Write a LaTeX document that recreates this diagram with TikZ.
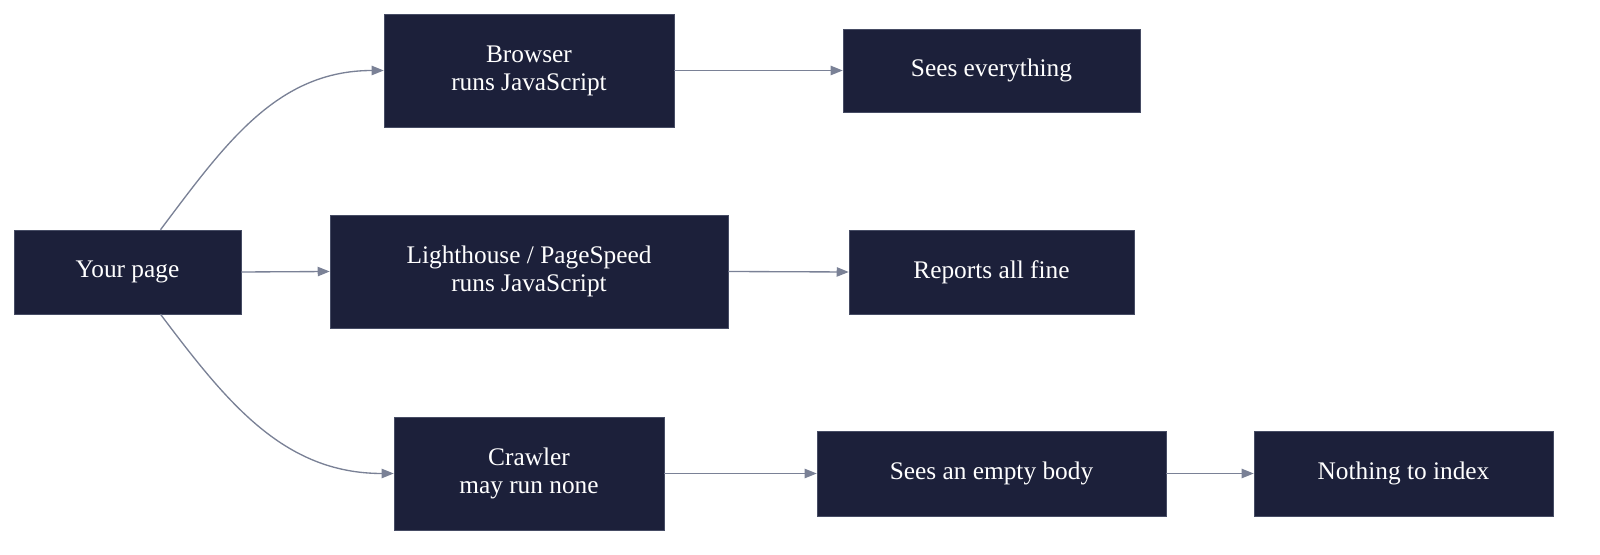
\documentclass[tikz,border=0pt]{standalone}
\usepackage{fontspec}
\setmainfont{Liberation Serif}
\usetikzlibrary{arrows.meta}
\definecolor{boxfill}{RGB}{28,32,58}
\definecolor{boxline}{RGB}{70,76,100}
\definecolor{linkgrey}{RGB}{122,129,150}
\tikzset{
  box/.style={draw=boxline, fill=boxfill, text=white, font=\fontsize{19}{21}\selectfont, align=center, inner sep=0pt},
  link/.style={draw=linkgrey, line width=1pt, -{Triangle[length=9pt,width=7pt]}}
}
\begin{document}
\begin{tikzpicture}[x=0.75pt,y=0.75pt,yscale=-1,xscale=1]
\useasboundingbox (0,0) rectangle (1600,555);

%Boxes
\node [box, minimum width=170.25pt, minimum height=63pt] (page) at (127.5,272) {Your page};
\node [box, minimum width=217.5pt, minimum height=84.75pt] (browser) at (529,70.5) {Browser\\runs JavaScript};
\node [box, minimum width=222.75pt, minimum height=62.25pt] (sees) at (991.5,70.5) {Sees everything};
\node [box, minimum width=298.5pt, minimum height=84.75pt] (lighthouse) at (529,271.5) {Lighthouse / PageSpeed\\runs JavaScript};
\node [box, minimum width=213.75pt, minimum height=63pt] (reports) at (991.5,272) {Reports all fine};
\node [box, minimum width=202.5pt, minimum height=84.75pt] (crawler) at (529,473.5) {Crawler\\may run none};
\node [box, minimum width=261.75pt, minimum height=63.75pt] (empty) at (991.5,473.5) {Sees an empty body};
\node [box, minimum width=224.25pt, minimum height=63.75pt] (nothing) at (1403.5,473.5) {Nothing to index};

%Links
\draw [link] ([xshift=24.75pt]page.north) to[out=-53,in=180] (browser.west);
\draw [link] (page.east) -- (lighthouse.west);
\draw [link] ([xshift=24.75pt]page.south) to[out=53,in=180] (crawler.west);
\draw [link] (browser.east) -- (sees.west);
\draw [link] (lighthouse.east) -- (reports.west);
\draw [link] (crawler.east) -- (empty.west);
\draw [link] (empty.east) -- (nothing.west);

\end{tikzpicture}
\end{document}
